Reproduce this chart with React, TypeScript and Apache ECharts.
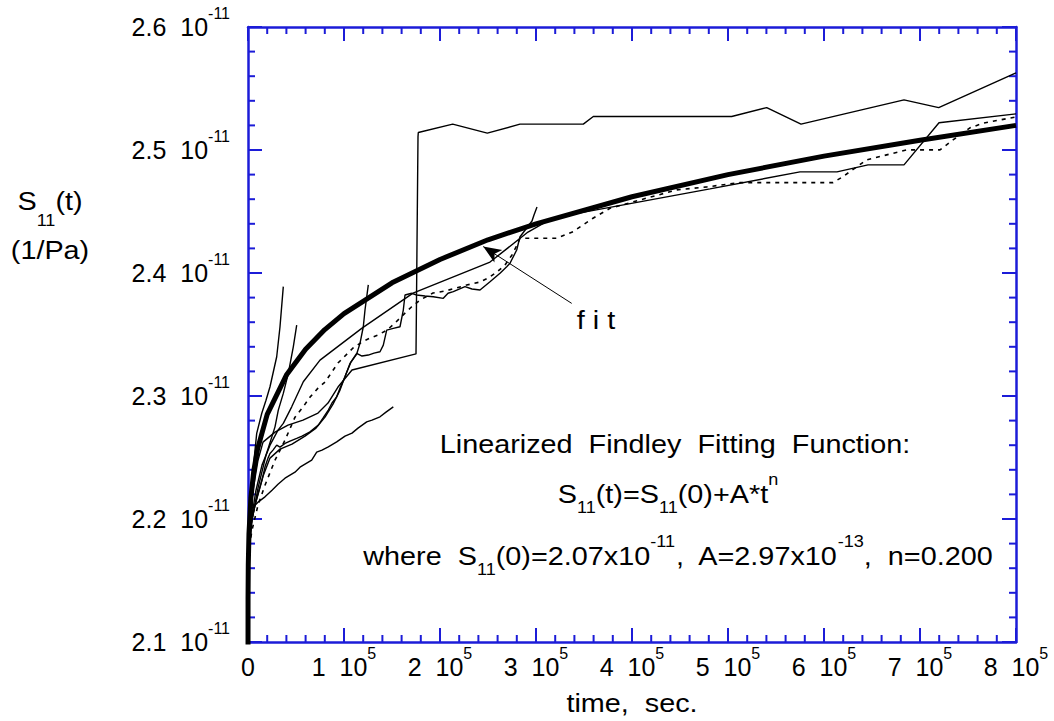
import React, { useEffect, useRef } from "react";
import * as echarts from "echarts";

const FONT = '"Liberation Sans", Arial, Helvetica, sans-serif';
const BLUE = "#1c1cd8";
const STRETCH = 1.13;
const GRID = { left: 248, right: 38, top: 27, bottom: 79 };

// axis ticks
const xTickValues = [0, 100000, 200000, 300000, 400000, 500000, 600000, 700000, 800000];
const xTickMantissas = ["0", "1", "2", "3", "4", "5", "6", "7", "8"];
const yTickValues = [2.1, 2.2, 2.3, 2.4, 2.5, 2.6];
const yTickMantissas = ["2.1", "2.2", "2.3", "2.4", "2.5", "2.6"];
const MINOR_DIVISIONS = 5;

// time [s], S11 [1e-11 1/Pa]
const fitCurve: [number, number][] = [
  [0, 2.07], [50, 2.135], [300, 2.163], [1000, 2.188], [3000, 2.217], [6000, 2.239],
  [10000, 2.257], [20000, 2.285], [40000, 2.317], [60000, 2.338], [80000, 2.354],
  [100000, 2.367], [150000, 2.392], [200000, 2.411], [250000, 2.427], [300000, 2.44],
  [400000, 2.462], [500000, 2.48], [600000, 2.495], [700000, 2.508], [800000, 2.52],
];

const specimenJump: [number, number][] = [
  [0, 2.1665], [2083, 2.199], [5208, 2.2234], [10417, 2.2478], [15625, 2.2625],
  [28125, 2.2706], [41667, 2.2763], [57292, 2.2804], [72917, 2.2861], [83333, 2.2943],
  [93750, 2.3073], [108333, 2.3211], [175000, 2.3342], [177083, 2.5107], [177396, 2.5142],
  [213229, 2.521], [249271, 2.5137], [283333, 2.521], [349271, 2.521], [359688, 2.5272],
  [503854, 2.5272], [540313, 2.5345], [576042, 2.521], [683333, 2.5408], [719479, 2.5345],
  [800000, 2.5627],
];

const specimenLong: [number, number][] = [
  [0, 2.1787], [4167, 2.2031], [8333, 2.2234], [14583, 2.2438], [22917, 2.26],
  [31250, 2.2723], [36771, 2.2777], [45521, 2.2912], [57604, 2.3116], [75000, 2.3292],
  [118438, 2.355], [171875, 2.3837], [252083, 2.4089], [291667, 2.4333], [317708, 2.4448],
  [481250, 2.4684], [575000, 2.4822], [613542, 2.4822], [645833, 2.4879], [683333, 2.4879],
  [719792, 2.5221], [800000, 2.5294],
];

const specimenDashed: [number, number][] = [
  [0, 2.1705], [4167, 2.1909], [10417, 2.2112], [17708, 2.2275], [28125, 2.2478],
  [38542, 2.2641], [48958, 2.2828], [57292, 2.291], [64583, 2.2991], [72917, 2.3064],
  [80208, 2.3113], [93750, 2.3268], [109375, 2.339], [118750, 2.3439], [127083, 2.3471],
  [135417, 2.3496], [144792, 2.3536], [153125, 2.3593], [161458, 2.3658], [170521, 2.3726],
  [179167, 2.378], [192708, 2.3837], [205208, 2.3853], [227813, 2.3902], [241667, 2.3927],
  [250000, 2.3959], [259375, 2.4008], [267708, 2.4065], [275000, 2.4147], [280208, 2.4228],
  [283333, 2.4282], [321563, 2.4282], [338542, 2.4336], [359375, 2.4445], [377083, 2.4526],
  [408333, 2.4594], [446875, 2.4676], [478125, 2.47], [512500, 2.4735], [609375, 2.4735],
  [619792, 2.4784], [644479, 2.492], [686146, 2.5001], [720833, 2.5001], [734375, 2.5082],
  [752083, 2.518], [765625, 2.5218], [800000, 2.5269],
];

const specimenJagged: [number, number][] = [
  [0, 2.1787], [4167, 2.199], [7292, 2.2112], [10729, 2.2207], [14583, 2.2316],
  [17708, 2.2424], [20833, 2.2495], [22917, 2.2533], [26042, 2.256], [29896, 2.26],
  [33333, 2.2584], [38542, 2.2614], [43750, 2.2633], [50729, 2.2655], [56250, 2.2674],
  [64583, 2.2709], [73229, 2.2763], [78125, 2.282], [83646, 2.2886], [87500, 2.2943],
  [92396, 2.2993], [95833, 2.3064], [101042, 2.3156], [106250, 2.3265], [113229, 2.3347],
  [118750, 2.3325], [125313, 2.3333], [131250, 2.3349], [137500, 2.336], [140938, 2.3414],
  [144479, 2.3536], [151354, 2.355], [158333, 2.3563], [161771, 2.3699], [163542, 2.3821],
  [170521, 2.3835], [175729, 2.3821], [184375, 2.3813], [193021, 2.3807], [203438, 2.3794],
  [208333, 2.3835], [213854, 2.3848], [226042, 2.3889], [233333, 2.387], [241667, 2.3862],
  [252083, 2.3929], [262500, 2.3998], [269479, 2.4051], [272917, 2.4079], [279896, 2.4187],
  [283333, 2.4295], [289583, 2.4358], [295833, 2.4423], [297917, 2.4472], [301042, 2.4537],
];

const specimenLow: [number, number][] = [
  [0, 2.1909], [2083, 2.2031], [4167, 2.2088], [10417, 2.2137], [17708, 2.218],
  [25000, 2.2234], [31250, 2.2283], [38542, 2.2332], [48958, 2.2381], [54167, 2.2421],
  [66354, 2.2478], [71563, 2.2544], [77083, 2.256], [83646, 2.2587], [92396, 2.2627],
  [101042, 2.2674], [108333, 2.2698], [114583, 2.2739], [123646, 2.279], [129167, 2.2804],
  [137500, 2.2831], [143750, 2.2869], [151354, 2.2912],
];

const specimenShort1: [number, number][] = [
  [0, 2.1665], [2083, 2.199], [4167, 2.2234], [6250, 2.2478], [9063, 2.2696],
  [14271, 2.2858], [18750, 2.2966], [22917, 2.3075], [29896, 2.3319], [33333, 2.3563],
  [36771, 2.3889],
];

const specimenShort2: [number, number][] = [
  [0, 2.1624], [4167, 2.199], [10417, 2.2251], [18750, 2.2519], [28125, 2.2749],
  [31563, 2.2885], [36771, 2.3021], [41979, 2.3184], [47188, 2.34], [50729, 2.3577],
];

const specimenShort3: [number, number][] = [
  [0, 2.1746], [4167, 2.2006], [9375, 2.2177], [15625, 2.2348], [22917, 2.2495],
  [33333, 2.2568], [45833, 2.2609], [59375, 2.2674], [70833, 2.2739], [80208, 2.2828],
  [88542, 2.2934], [95833, 2.3048], [102083, 2.3178], [107292, 2.3276], [113229, 2.3341],
  [116667, 2.3428], [120104, 2.3563], [121875, 2.3699], [125313, 2.3903],
];

// arrow "fit": from label end to fitted curve
const fitArrow: [number, number][] = [[337200, 2.3753], [245000, 2.4215]];

const thinSpecimens = [
  specimenJump, specimenLong, specimenJagged, specimenLow,
  specimenShort1, specimenShort2, specimenShort3,
];

const X_MIN = xTickValues[0];
const X_MAX = xTickValues[xTickValues.length - 1];
const Y_MIN = yTickValues[0];
const Y_MAX = yTickValues[yTickValues.length - 1];

// tick marks: [value, 1 = major / 0 = minor], placed through the axis scales
function tickMarks(majors: number[], decimals: number): number[][] {
  const out: number[][] = [];
  majors.forEach((v, i) => {
    out.push([v, 1]);
    if (i < majors.length - 1) {
      const step = (majors[i + 1] - v) / MINOR_DIVISIONS;
      for (let k = 1; k < MINOR_DIVISIONS; k++) {
        const m = Math.round((v + k * step) * Math.pow(10, decimals)) / Math.pow(10, decimals);
        out.push([m, 0]);
      }
    }
  });
  return out;
}
const xTickMarks = tickMarks(xTickValues, 0);
const yTickMarks = tickMarks(yTickValues, 3);

function xLabel(v: number): string {
  const i = xTickValues.indexOf(Math.round(v));
  if (i <= 0) return "{n|0}";
  return `{n|${xTickMantissas[i]}}  {n|10}{sup|5}`;
}
function yLabel(v: number): string {
  const i = Math.round((v - Y_MIN) * 10);
  return `{n|${yTickMantissas[i]}}  {n|10}{sup|-11}`;
}

const tickRich = {
  n: { fontSize: 25, fontFamily: FONT, color: "#000", lineHeight: 44 },
  sup: { fontSize: 16, fontFamily: FONT, color: "#000", lineHeight: 16, verticalAlign: "top" },
};

function range(isX: boolean) {
  return isX
    ? { min: X_MIN, max: X_MAX, interval: 100000 }
    : { min: Y_MIN, max: Y_MAX, interval: 0.1 };
}

// blue frame on all four sides (data layer)
function frameAxis(position: string, isX: boolean) {
  return {
    type: "value",
    position,
    ...range(isX),
    axisLine: { show: true, onZero: false, lineStyle: { color: BLUE, width: 2.5 } },
    axisTick: { show: false },
    minorTick: { show: false },
    splitLine: { show: false },
    axisLabel: { show: false },
  };
}

// tick labels with powers of ten (label layer, same scales)
function labelAxis(position: string, isX: boolean) {
  return {
    type: "value",
    position,
    ...range(isX),
    axisLine: { show: false },
    axisTick: { show: false },
    minorTick: { show: false },
    splitLine: { show: false },
    axisLabel: {
      show: true,
      margin: isX ? 3 : 18,
      formatter: isX ? xLabel : yLabel,
      fontSize: 25,
      fontFamily: FONT,
      color: "#000",
      lineHeight: 44,
      rich: tickRich,
    },
  };
}

const MAJOR_LEN = 14;
const MINOR_LEN = 7;
const tickStyle = { stroke: BLUE, lineWidth: 2 };

function xTickSeries() {
  return {
    type: "custom", name: "x ticks", coordinateSystem: "cartesian2d", data: xTickMarks,
    encode: { x: 0, y: 1 }, clip: false, silent: true, z: 1,
    renderItem: (_p: any, api: any) => {
      const v = api.value(0);
      const len = api.value(1) === 1 ? MAJOR_LEN : MINOR_LEN;
      const b = api.coord([v, Y_MIN]);
      const t = api.coord([v, Y_MAX]);
      return {
        type: "group",
        children: [
          { type: "line", shape: { x1: b[0], y1: b[1], x2: b[0], y2: b[1] - len }, style: tickStyle },
          { type: "line", shape: { x1: t[0], y1: t[1], x2: t[0], y2: t[1] + len }, style: tickStyle },
        ],
      };
    },
  };
}

function yTickSeries() {
  return {
    type: "custom", name: "y ticks", coordinateSystem: "cartesian2d",
    data: yTickMarks.map((d) => [d[1], d[0]]),
    encode: { x: 0, y: 1 }, clip: false, silent: true, z: 1,
    renderItem: (_p: any, api: any) => {
      const v = api.value(1);
      const len = api.value(0) === 1 ? MAJOR_LEN : MINOR_LEN;
      const l = api.coord([X_MIN, v]);
      const r = api.coord([X_MAX, v]);
      return {
        type: "group",
        children: [
          { type: "line", shape: { x1: l[0], y1: l[1], x2: l[0] + len, y2: l[1] }, style: tickStyle },
          { type: "line", shape: { x1: r[0], y1: r[1], x2: r[0] - len, y2: r[1] }, style: tickStyle },
        ],
      };
    },
  };
}

function textEl(x: number, y: number, text: string, lineHeight = 44) {
  return {
    type: "text",
    x, y, scaleX: STRETCH, scaleY: 1, silent: true,
    style: {
      text, x: 0, y: 0, fill: "#000", fontSize: 25.5, fontFamily: FONT, lineHeight,
      align: "center", verticalAlign: "middle", textAlign: "center", textVerticalAlign: "middle",
      rich: {
        sub: { fontSize: 16, fontFamily: FONT, lineHeight: 16, verticalAlign: "bottom", fill: "#000" },
        sup: { fontSize: 16, fontFamily: FONT, lineHeight: 26, verticalAlign: "top", fill: "#000" },
      },
    },
  };
}

const layerStyle: React.CSSProperties = {
  position: "absolute", left: 0, top: 0, width: 1054, height: 721,
};

export default function App() {
  const plotRef = useRef<HTMLDivElement>(null);
  const labelRef = useRef<HTMLDivElement>(null);
  useEffect(() => {
    if (!plotRef.current || !labelRef.current) return;
    const plot = echarts.init(plotRef.current, null, { renderer: "svg" });
    const labels = echarts.init(labelRef.current, null, { renderer: "svg" });

    const series: any[] = [xTickSeries(), yTickSeries()];
    thinSpecimens.forEach((d, i) => {
      series.push({
        type: "line", name: "specimen " + (i + 1), data: d, showSymbol: false, symbol: "none",
        lineStyle: { color: "#000", width: 1.4 }, z: 2,
      });
    });
    series.push({
      type: "line", name: "specimen dashed", data: specimenDashed, showSymbol: false, symbol: "none",
      lineStyle: { color: "#000", width: 1.6, type: [4, 5] }, z: 2,
    });
    series.push({
      type: "line", name: "fit", data: fitCurve, showSymbol: false, symbol: "none",
      lineStyle: { color: "#000", width: 5 }, z: 3,
      markLine: {
        symbol: ["none", "arrow"], symbolSize: [11, 18],
        lineStyle: { color: "#000", width: 1, type: "solid" }, label: { show: false },
        data: [[{ coord: fitArrow[0] }, { coord: fitArrow[1] }]],
      },
    });

    plot.setOption({
      animation: false,
      grid: GRID,
      xAxis: [frameAxis("bottom", true), frameAxis("top", true)],
      yAxis: [frameAxis("left", false), frameAxis("right", false)],
      series,
    });

    labels.setOption({
      animation: false,
      grid: GRID,
      xAxis: labelAxis("bottom", true),
      yAxis: labelAxis("left", false),
      series: [],
      graphic: [
        textEl(50, 201.5, "S{sub|11}(t)", 54),
        textEl(50, 250, "(1/Pa)"),
        textEl(675, 444, "Linearized  Findley  Fitting  Function:"),
        textEl(668, 494, "S{sub|11}(t)=S{sub|11}(0)+A*t{sup|n}"),
        textEl(678, 556, "where  S{sub|11}(0)=2.07x10{sup|-11},  A=2.97x10{sup|-13},  n=0.200"),
        textEl(596, 320, "f i t"),
        textEl(632, 703, "time,  sec."),
      ],
    });
    return () => {
      labels.dispose();
      plot.dispose();
    };
  }, []);
  return (
    <div style={{ ...layerStyle, background: "#fff" }}>
      <div ref={plotRef} style={layerStyle} />
      <div ref={labelRef} style={{ ...layerStyle, pointerEvents: "none" }} />
    </div>
  );
}
